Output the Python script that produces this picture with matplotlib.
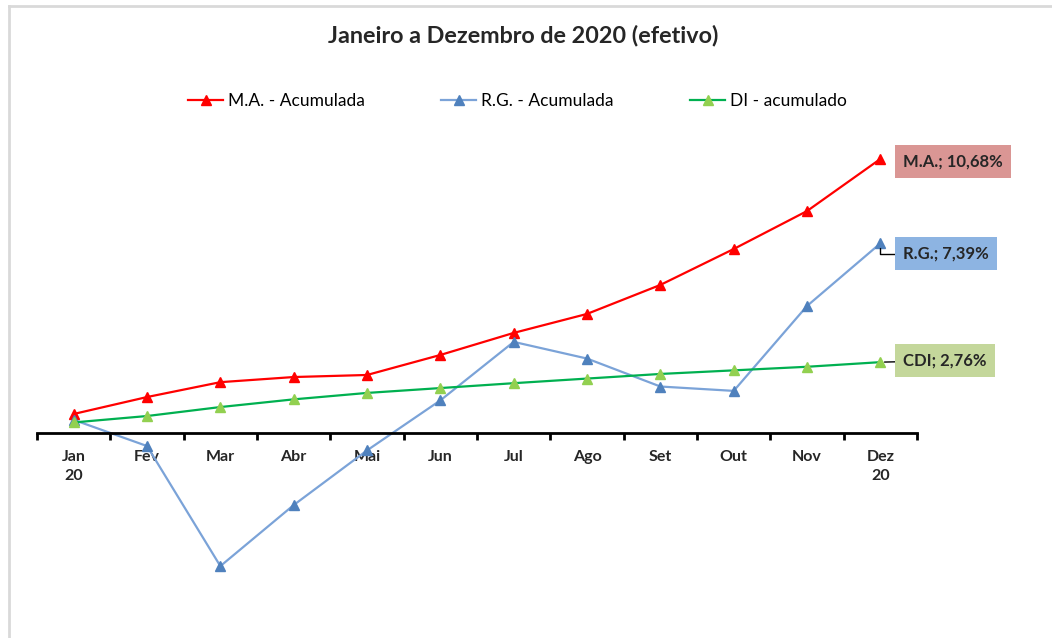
import matplotlib.pyplot as plt
from matplotlib.lines import Line2D
import numpy as np

plt.rcParams['font.family'] = ['Lato', 'DejaVu Sans']

months = ['Jan\n20', 'Fev', 'Mar', 'Abr', 'Mai', 'Jun', 'Jul', 'Ago', 'Set',
          'Out', 'Nov', 'Dez\n20']
ma_acum = [0.74, 1.40, 1.98, 2.18, 2.26, 3.04, 3.90, 4.64, 5.77, 7.17, 8.65, 10.68]
rg_acum = [0.51, -0.51, -5.19, -2.81, -0.68, 1.27, 3.55, 2.90, 1.81, 1.64, 4.95, 7.39]
di_acum = [0.41, 0.66, 1.01, 1.31, 1.56, 1.75, 1.94, 2.12, 2.30, 2.44, 2.58, 2.76]


def pct(v):
    return f'{v:.2f}%'.replace('.', ',')


fig = plt.figure(figsize=(10.52, 6.38), dpi=100)
ax = fig.add_axes([0.0352, 0.0596, 0.8365, 0.721])
x = np.arange(len(months))

ax.plot(x, ma_acum, color='#FF0000', lw=1.6, marker='^', ms=7,
        mfc='#FF0000', mec='#FF0000', label='M.A. - Acumulada')
ax.plot(x, rg_acum, color='#7BA3D8', lw=1.6, marker='^', ms=7,
        mfc='#4F81BD', mec='#4F81BD', label='R.G. - Acumulada')
ax.plot(x, di_acum, color='#00B050', lw=1.6, marker='^', ms=7,
        mfc='#92D050', mec='#92D050', label='DI - acumulado')

ax.set_xlim(-0.5, 11.5)
ax.set_ylim(-6.51, 11.42)

for s in ['top', 'right', 'left']:
    ax.spines[s].set_visible(False)
ax.spines['bottom'].set_position(('data', 0))
ax.spines['bottom'].set_linewidth(2)
ax.spines['bottom'].set_color('black')
ax.set_yticks([])

# ticks between categories, labels at centres
ax.set_xticks(np.arange(-0.5, 12, 1))
ax.set_xticklabels([])
ax.tick_params(axis='x', which='major', direction='out', length=5, width=2,
               color='black')
ax.set_xticks(x, minor=True)
ax.set_xticklabels(months, minor=True, fontsize=11.5, fontweight='bold',
                   color='#262626', linespacing=1.45)
ax.tick_params(axis='x', which='minor', length=0, pad=12)

fig.text(0.497, 0.944, 'Janeiro a Dezembro de 2020 (efetivo)', ha='center',
         va='center', fontsize=16.8, fontweight='bold', color='#262626')

ax.legend(loc='center', bbox_to_anchor=(0.492, 0.842),
          bbox_transform=fig.transFigure, ncol=3, frameon=False,
          prop={'size': 12.5}, columnspacing=4.4,
          handlelength=2.0, handletextpad=0.3)

# data labels on the last point
last = len(months) - 1
lbl = dict(textcoords='offset points', ha='left', va='center', fontsize=12,
           fontweight='bold', color='#262626')
ax.annotate('M.A.; ' + pct(ma_acum[-1]), (last, ma_acum[-1]), xytext=(16.5, -2),
            bbox=dict(boxstyle='square,pad=0.5', fc='#DA9694', ec='none'), **lbl)
ax.annotate('R.G.; ' + pct(rg_acum[-1]), (last, rg_acum[-1]), xytext=(16.5, -7.5),
            bbox=dict(boxstyle='square,pad=0.5', fc='#8DB4E2', ec='none'),
            arrowprops=dict(arrowstyle='-', color='black', lw=1,
                            connectionstyle='angle,angleA=0,angleB=90,rad=0',
                            shrinkA=0, shrinkB=3), **lbl)
ax.annotate('CDI; ' + pct(di_acum[-1]), (last, di_acum[-1]), xytext=(16.5, 1),
            bbox=dict(boxstyle='square,pad=0.5', fc='#C4D79B', ec='none'),
            arrowprops=dict(arrowstyle='-', color='black', lw=1,
                            shrinkA=0, shrinkB=3), **lbl)

# chart area border (partly cropped in the original)
fig.add_artist(Line2D([9 / 1052, 9 / 1052], [0, 1 - 6 / 638], color='#D9D9D9', lw=2))
fig.add_artist(Line2D([9 / 1052, 1], [1 - 6 / 638, 1 - 6 / 638], color='#D9D9D9', lw=2))

fig.savefig('out.png', dpi=100)
